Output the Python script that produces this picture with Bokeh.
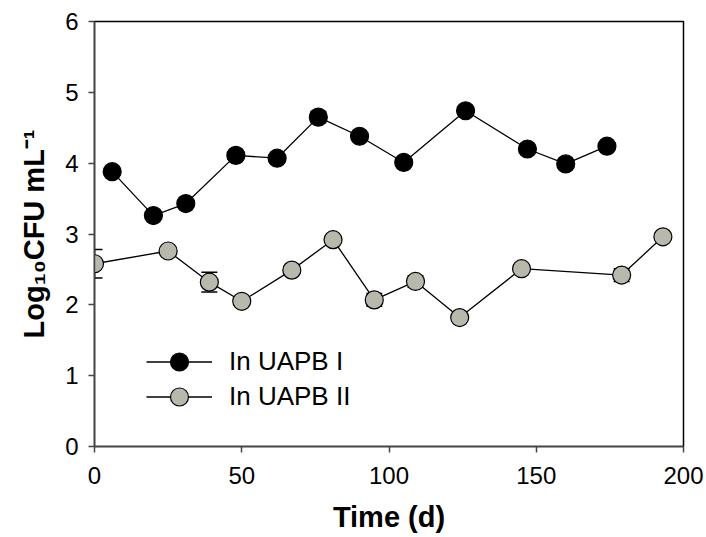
from bokeh.plotting import figure
from bokeh.models import Range1d, FixedTicker, Whisker, ColumnDataSource, Legend, LegendItem, TeeHead
from bokeh.embed import file_html
from bokeh.resources import INLINE

# Data
days_1 = [6, 20, 31, 48, 62, 76, 90, 105, 126, 147, 160, 174]
vals_1 = [3.88, 3.26, 3.43, 4.11, 4.07, 4.65, 4.38, 4.01, 4.74, 4.20, 3.99, 4.24]
err_1 = [0.04, 0.05, 0.05, 0.05, 0.05, 0.08, 0.05, 0.05, 0.06, 0.05, 0.05, 0.05]

days_2 = [0, 25, 39, 50, 67, 81, 95, 109, 124, 145, 179, 193]
vals_2 = [2.58, 2.76, 2.32, 2.05, 2.49, 2.92, 2.07, 2.33, 1.82, 2.51, 2.42, 2.96]
err_2 = [0.20, 0.04, 0.14, 0.05, 0.05, 0.05, 0.09, 0.08, 0.05, 0.05, 0.09, 0.05]

x_ticks = [0, 50, 100, 150, 200]
y_ticks = [0, 1, 2, 3, 4, 5, 6]
series_names = ["In UAPB I", "In UAPB II"]

FONT = "Liberation Sans"
GRAY = "#b8b8ac"

p = figure(width=706, height=537, output_backend="svg", toolbar_location=None,
           x_range=Range1d(0, 200), y_range=Range1d(0, 6),
           min_border_left=94, min_border_right=23, min_border_top=21, min_border_bottom=91)
p.background_fill_color = "white"
p.border_fill_color = "white"
p.outline_line_color = "black"
p.outline_line_width = 1.5
p.xgrid.visible = False
p.ygrid.visible = False

src1 = ColumnDataSource(dict(x=days_1, y=vals_1,
                             lo=[v - e for v, e in zip(vals_1, err_1)],
                             hi=[v + e for v, e in zip(vals_1, err_1)]))
src2 = ColumnDataSource(dict(x=days_2, y=vals_2,
                             lo=[v - e for v, e in zip(vals_2, err_2)],
                             hi=[v + e for v, e in zip(vals_2, err_2)]))

for src in (src1, src2):
    w = Whisker(source=src, base="x", lower="lo", upper="hi", line_color="black", line_width=1.5,
                upper_head=TeeHead(size=16, line_color="black", line_width=1.5),
                lower_head=TeeHead(size=16, line_color="black", line_width=1.5), level="underlay")
    p.add_layout(w)

l1 = p.line("x", "y", source=src1, line_color="black", line_width=1.3)
l2 = p.line("x", "y", source=src2, line_color="black", line_width=1.3)

m1 = p.scatter("x", "y", source=src1, size=18, fill_color="black", line_color="black", line_width=1.2)
m2 = p.scatter("x", "y", source=src2, size=18, fill_color=GRAY, line_color="black", line_width=1.2)


def make_legend(label, renderers, loc):
    lg = Legend(items=[LegendItem(label=label, renderers=renderers)], location=loc)
    lg.background_fill_alpha = 0
    lg.border_line_alpha = 0
    lg.padding = 0
    lg.margin = 0
    lg.spacing = 0
    lg.glyph_width = 66
    lg.glyph_height = 45
    lg.label_height = 45
    lg.label_standoff = 17
    lg.label_text_font = FONT
    lg.label_text_font_size = "26px"
    lg.label_text_color = "black"
    return lg


p.add_layout(make_legend(series_names[0], [l1, m1], (52, 62)))
p.add_layout(make_legend(series_names[1], [l2, m2], (52, 27)))

for ax in (p.xaxis[0], p.yaxis[0]):
    ax.major_label_text_font = FONT
    ax.major_label_text_font_size = "24px"
    ax.major_label_text_color = "black"
    ax.axis_label_text_font = FONT
    ax.axis_label_text_font_size = "29px"
    ax.axis_label_text_font_style = "bold"
    ax.axis_label_text_color = "black"
    ax.axis_line_color = "#444444"
    ax.axis_line_width = 1.5
    ax.major_tick_line_color = "#444444"
    ax.major_tick_line_width = 1.5
    ax.major_tick_in = 0
    ax.major_tick_out = 6
    ax.minor_tick_line_color = None

p.xaxis[0].ticker = FixedTicker(ticks=x_ticks)
p.yaxis[0].ticker = FixedTicker(ticks=y_ticks)
p.xaxis[0].axis_label = "Time (d)"
p.yaxis[0].axis_label = "Log\u2081\u2080CFU mL\u207b\u00b9"
p.xaxis[0].major_label_standoff = 14
p.yaxis[0].major_label_standoff = 10
p.xaxis[0].axis_label_standoff = 14
p.yaxis[0].axis_label_standoff = 12

open("out.html", "w").write(file_html(p, INLINE))
